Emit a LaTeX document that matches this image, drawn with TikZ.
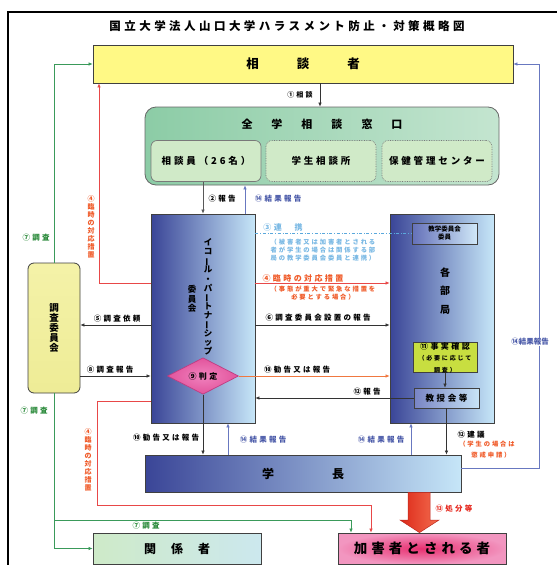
\documentclass[tikz,border=0pt]{standalone}
\usepackage{fontspec}
\setmainfont{Noto Sans CJK JP}[LetterSpace=30]
\newfontfamily\tight{Noto Sans CJK JP}
\usetikzlibrary{arrows.meta,shapes.geometric}
\definecolor{dkb}{HTML}{3A4597}
\definecolor{ltb}{HTML}{C6E6F8}
\definecolor{midb}{HTML}{95A3D2}
\definecolor{redl}{HTML}{E84848}
\definecolor{redt}{HTML}{F05A28}
\definecolor{orl}{HTML}{F07840}
\definecolor{bluel}{HTML}{6878C0}
\definecolor{bluet}{HTML}{4858A8}
\definecolor{greenl}{HTML}{3A9A5A}
\definecolor{greent}{HTML}{2A8A3A}
\definecolor{cyanl}{HTML}{5AA8DC}
\definecolor{cyant}{HTML}{78B8E4}
\definecolor{bord}{HTML}{404040}
\newcommand\myfs[2]{\fontsize{#1}{#2}\selectfont}
\newcommand\vbar{\rotatebox[origin=c]{90}{ー}}
\begin{document}
\begin{tikzpicture}[x=1pt,y=-1pt,
  box/.style={draw=bord, line width=0.8pt, inner sep=0pt},
  gradbox/.style={box, left color=dkb, middle color=midb, right color=ltb},
  lbl/.style={font=\bfseries\myfs{7.5}{8}, inner sep=0.5pt, align=center},
  sub/.style={font=\bfseries\myfs{6.3}{8}, inner sep=0.5pt, align=center},
  vlbl/.style={font=\tight\bfseries\myfs{7}{8}, inner sep=0pt, align=center},
  arr/.style={-{Latex[length=4pt,width=3.5pt]}, line width=0.6pt},
  blk/.style={arr, draw=black!80},
  blu/.style={arr, draw=bluel},
  red/.style={arr, draw=redl},
  grn/.style={arr, draw=greenl}]
\useasboundingbox (0,0) rectangle (557,565);
\fill[white] (0,0) rectangle (557,565);
\draw[line width=1.6pt] (8,565) -- (8,12) -- (557,12);
\node[font=\bfseries\myfs{11.5}{12}] (title) at (287,26) {国立大学法人山口大学ハラスメント防止・対策概略図};

% boxes
\node[box, minimum width=420pt, minimum height=38pt, left color=yellow!45!white!95!orange, middle color=orange!30!pink!70!white, right color=yellow!45!white!95!orange] (soudan) at (303,64) {};
\node[font=\tight\bfseries\myfs{12.5}{13}] at (soudan) {相\hspace{38pt}談\hspace{38pt}者};

\node[box, draw=bord!80, rounded corners=11pt, minimum width=354pt, minimum height=78pt, left color={rgb,255:red,140;green,204;blue,166}, right color={rgb,255:red,196;green,229;blue,208}] (zengaku) at (322,146) {};
\node[font=\tight\bfseries\myfs{11}{12}] at (322,124) {全\hspace{19pt}学\hspace{19pt}相\hspace{19pt}談\hspace{19pt}窓\hspace{19pt}口};
\node[box, draw=bord!70, line width=0.7pt, rounded corners=6pt, minimum width=110pt, minimum height=41pt, fill={rgb,255:red,208;green,234;blue,200}, font=\bfseries\myfs{9.5}{10}] (in1) at (206,161) {相談員（26名）};
\node[box, draw=bord!70, line width=0.7pt, densely dotted, rounded corners=6pt, minimum width=110pt, minimum height=41pt, fill={rgb,255:red,208;green,234;blue,200}, font=\bfseries\myfs{9.5}{10}] (in2) at (321,161) {学生相談所};
\node[box, draw=bord!70, line width=0.7pt, densely dotted, rounded corners=6pt, minimum width=110pt, minimum height=41pt, fill={rgb,255:red,208;green,234;blue,200}, font=\bfseries\myfs{9.5}{10}] (in3) at (437,161) {保健管理センター};

\node[gradbox, minimum width=104pt, minimum height=209pt] (comm) at (203,318.5) {};
\node[font=\tight\bfseries\myfs{8.5}{9.1}, align=center, inner sep=0pt] at (208,297) {イ\\コ\\\vbar\\ル\\・\\パ\\\vbar\\ト\\ナ\\\vbar\\シ\\ッ\\プ};
\node[font=\tight\bfseries\myfs{8.5}{9.5}, align=center, inner sep=0pt] at (192,299) {委\\員\\会};

\node[gradbox, minimum width=104pt, minimum height=209pt] (bukyoku) at (442,318.5) {};
\node[font=\tight\bfseries\myfs{10}{18.5}, align=center, inner sep=0pt] at (445,291) {各\\部\\局};
\node[box, line width=0.7pt, minimum width=65pt, minimum height=21pt, left color={rgb,255:red,100;green,112;blue,184}, right color={rgb,255:red,208;green,232;blue,248}, font=\tight\bfseries\myfs{6.5}{8}, align=center] (kyougaku) at (444.5,233.5) {教学委員会\\委員};
\node[box, line width=0.7pt, minimum width=64pt, minimum height=29pt, fill={rgb,255:red,200;green,222;blue,64}, align=center] (jijitsu) at (445,357.5) {\bfseries\myfs{8}{9}⑪事実確認\\[-1pt]\bfseries\myfs{6}{7.5}（必要に応じて\\\bfseries\myfs{6}{7.5}調査）};
\node[box, line width=0.7pt, minimum width=65pt, minimum height=20pt, left color={rgb,255:red,120;green,132;blue,196}, right color={rgb,255:red,200;green,228;blue,246}, font=\bfseries\myfs{8.5}{9}] (kyouju) at (446.5,398) {教授会等};

\node[box, rounded corners=6pt, minimum width=52pt, minimum height=130pt, top color={rgb,255:red,244;green,242;blue,168}, bottom color={rgb,255:red,238;green,236;blue,150}] (chousa) at (54,328) {};
\node[font=\tight\bfseries\myfs{9.5}{10}, align=center, inner sep=0pt] at (54,328) {調\\査\\委\\員\\会};

\node[diamond, draw={rgb,255:red,190;green,60;blue,130}, line width=0.7pt, inner color={rgb,255:red,240;green,130;blue,190}, outer color={rgb,255:red,226;green,84;blue,156}, minimum width=71pt, minimum height=29pt, inner sep=0pt, font=\bfseries\myfs{8}{9}] (hantei) at (203,376) {⑨判定};

\node[gradbox, minimum width=316pt, minimum height=37pt] (gakuchou) at (303,473.5) {};
\node[font=\tight\bfseries\myfs{12}{13}] at (gakuchou) {学\hspace{58pt}長};

\node[box, minimum width=168pt, minimum height=31pt, left color={rgb,255:red,206;green,234;blue,200}, right color={rgb,255:red,204;green,232;blue,238}, font=\tight\bfseries\myfs{12}{13}] (kankei) at (177,548.5) {関\hspace{15pt}係\hspace{15pt}者};
\node[box, minimum width=168pt, minimum height=31pt, inner color={rgb,255:red,232;green,48;blue,112}, outer color={rgb,255:red,242;green,150;blue,192}, font=\bfseries\myfs{13.5}{14}] (kagai) at (422,548.5) {加害者とされる者};

% connectors
\draw[blk] (soudan.south -| 320,0) -- (zengaku.north -| 320,0);
\node[lbl, font=\bfseries\myfs{7}{8}] at (300,95) {①相談};
\draw[blk, draw=black!65] (in1.south -| 203,0) -- (comm.north -| 203,0);
\node[lbl] at (222,199) {②報告};
\draw[blu] (comm.north -| 245,0) -- (zengaku.south -| 245,0);
\node[lbl, text=bluet] at (278,199) {⑭結果報告};

\draw[red] (comm.west |- 0,283) -| (soudan.south -| 99,0);
\node[vlbl, text=redt] at (91,227) {④\\臨\\時\\の\\対\\応\\措\\置};
\draw[grn] (chousa.north) |- (soudan.west);
\node[lbl, text=greent] at (36,238) {⑦調査};

\draw[blk] (comm.west |- 0,325) -- (chousa.east |- 0,325);
\node[lbl] at (117,319) {⑤調査依頼};
\draw[blk] (chousa.east |- 0,376) -- (comm.west |- 0,376);
\node[lbl] at (110,369.5) {⑧調査報告};

\draw[red] (comm.west |- 0,401) -| (97,505) -| (kagai.north -| 371,0);
\node[vlbl, text=redt] at (88,460) {④\\臨\\時\\の\\対\\応\\措\\置};
\draw[grn] (chousa.south) |- (kankei.west);
\coordinate (gbr) at (54,520);
\draw[grn] (gbr) -| (kagai.north -| 351,0);
\node[lbl, text=greent] at (34,411) {⑦調査};
\node[lbl, text=greent] at (146,526) {⑦調査};

\draw[dash dot, line width=0.7pt, draw=cyanl] (comm.east |- kyougaku.west) -- (kyougaku.west);
\node[lbl, font=\bfseries\myfs{8}{9}, text=cyant] at (283,227.5) {③連　携};
\node[sub, text=cyant] at (323,250) {（被害者又は加害者とされる\\者が学生の場合は関係する部\\局の教学委員会委員と連携）};
\draw[red] (comm.east |- 0,283) -- (bukyoku.west |- 0,283);
\node[lbl, font=\bfseries\myfs{8}{9}, text=redt] at (303,278) {④臨時の対応措置};
\node[sub, text=redt] at (323,293) {（事態が重大で緊急な措置を\\必要とする場合）};
\draw[blk] (comm.east |- 0,325) -- (bukyoku.west |- 0,325);
\node[lbl] at (318,318) {⑥調査委員会設置の報告};

\draw[arr, draw=orl] (hantei.east) -- (bukyoku.west |- hantei.east);
\node[lbl] at (297,369.5) {⑩勧告又は報告};
\draw[blk] (kyouju.west) -- (comm.east |- kyouju.west);
\node[lbl] at (367,392) {⑫報告};
\draw[blk] (jijitsu.south) -- (kyouju.north -| jijitsu.south);

\draw[blk] (hantei.south) -- (gakuchou.north -| hantei.south);
\node[lbl] at (166,438) {⑩勧告又は報告};
\draw[blu] (gakuchou.north -| 228,0) -- (comm.south -| 228,0);
\node[lbl, text=bluet] at (263,440) {⑭結果報告};
\draw[blu] (gakuchou.north -| 411,0) -- (bukyoku.south -| 411,0);
\node[lbl, text=bluet] at (381,440) {⑭結果報告};
\draw[blk] (kyouju.south) -- (gakuchou.north -| kyouju.south);
\node[lbl] at (471,435) {⑫建議};
\node[sub, text=redt] at (487,444.5) {（学生の場合は};
\node[sub, text=redt] at (491,455) {懲戒申請）};

\draw[blu] (gakuchou.east |- 0,468) -| (539,64) -- (soudan.east);
\node[lbl, font=\tight\bfseries\myfs{7.5}{8}, text=bluet, fill=white, inner sep=0.3pt] at (530,342) {⑭結果報告};

% big arrow 13
\shade[left color={rgb,255:red,220;green,40;blue,24}, right color={rgb,255:red,244;green,110;blue,80}, draw={rgb,255:red,190;green,40;blue,30}, line width=0.5pt]
  (gakuchou.south -| 408,0) -- (408,520) -- (400,520) -- (kagai.north -| 419.5,0) -- (439,520) -- (430,520) -- (gakuchou.south -| 430,0) -- cycle;
\node[lbl, text={rgb,255:red,230;green,40;blue,30}] at (454,509) {⑬処分等};
\end{tikzpicture}
\end{document}
